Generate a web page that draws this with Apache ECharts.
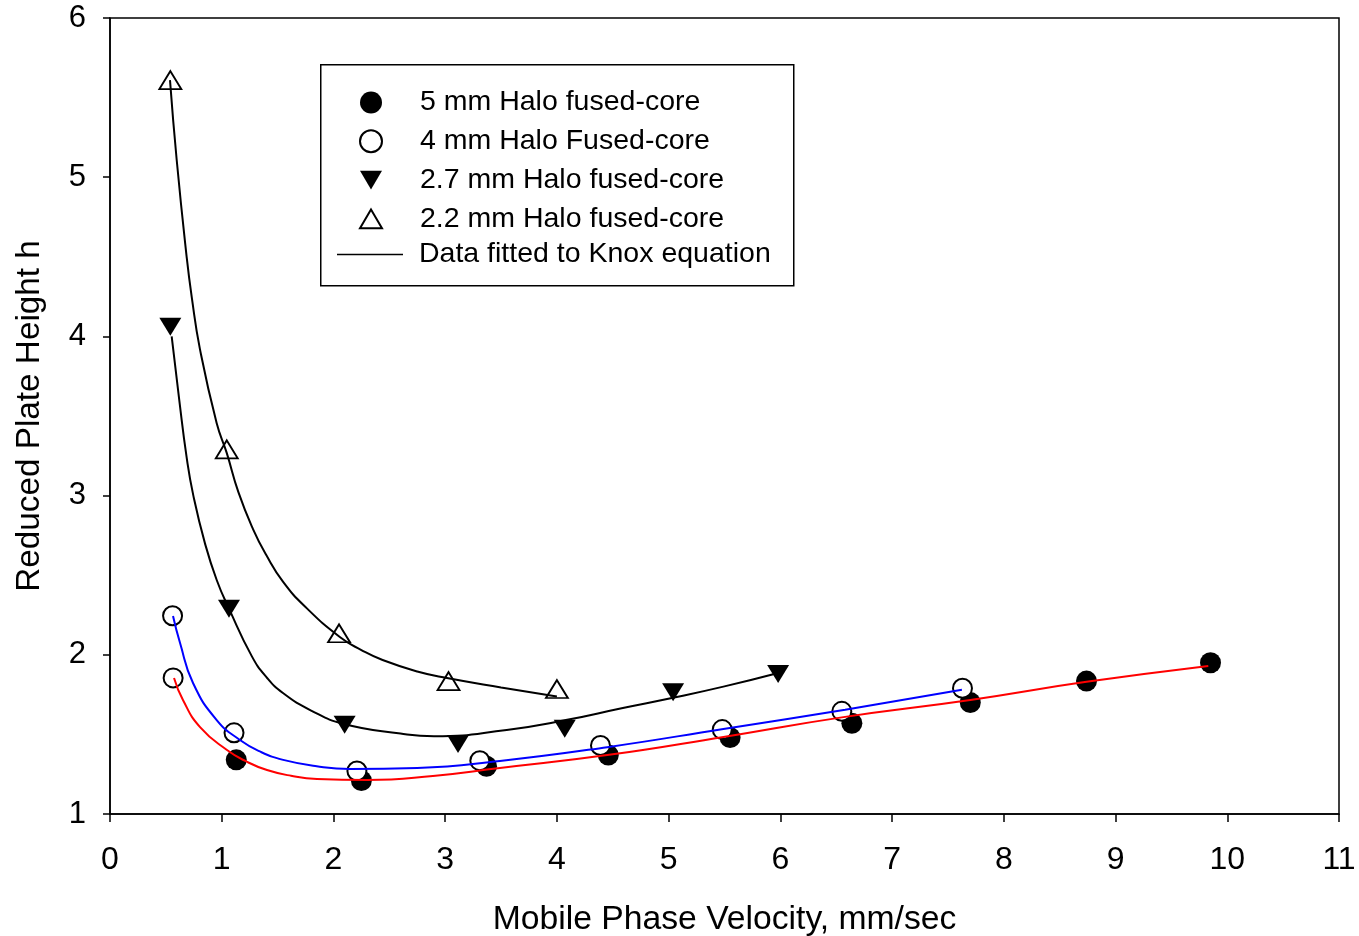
<!DOCTYPE html>
<html>
<head>
<meta charset="utf-8">
<script src="https://cdn.jsdelivr.net/npm/echarts@6/dist/echarts.min.js"></script>
<style>html,body{margin:0;padding:0;background:#fff}#c{width:1359px;height:936px}</style>
</head>
<body>
<div id="c"></div>
<script>
// ---- data ----
const v5 = [1.13, 2.25, 3.37, 4.46, 5.55, 6.64, 7.70, 8.74, 9.85];
const h5 = [1.34, 1.21, 1.30, 1.37, 1.48, 1.57, 1.70, 1.835, 1.95];

const v4 = [0.56, 0.565, 1.11, 2.21, 3.31, 4.39, 5.48, 6.55, 7.63];
const h4 = [2.245, 1.855, 1.51, 1.27, 1.335, 1.43, 1.53, 1.645, 1.79];

const v27 = [0.54, 1.065, 2.10, 3.115, 4.07, 5.04, 5.98];
const h27 = [4.06, 2.29, 1.56, 1.44, 1.535, 1.765, 1.88];

const v22 = [0.54, 1.045, 2.05, 3.03, 4.0];
const h22 = [5.61, 3.29, 2.135, 1.835, 1.785];

// fitted Knox curves
const fit5 = [[0.573,1.854],[0.653,1.716],[0.806,1.546],[1.047,1.402],[1.22,1.33],[1.405,1.276],[1.62,1.24],[1.853,1.22],[2.30,1.214],[2.89,1.239],[3.49,1.289],[4.45,1.37],[5.49,1.484],[6.55,1.607],[7.70,1.716],[8.74,1.83],[9.83,1.93]];
const fit4 = [[0.564,2.244],[0.627,2.074],[0.743,1.823],[0.955,1.59],[1.163,1.465],[1.35,1.39],[1.55,1.34],[1.85,1.30],[2.15,1.283],[2.75,1.289],[3.49,1.333],[4.45,1.42],[5.49,1.534],[6.58,1.655],[7.625,1.78]];
const fit27 = [[0.552,4.0],[0.62,3.60],[0.686,3.24],[0.746,3.0],[0.85,2.70],[0.955,2.47],[1.065,2.29],[1.27,1.99],[1.40,1.86],[1.548,1.76],[1.80,1.65],[2.094,1.565],[2.6,1.505],[2.9,1.488],[3.55,1.528],[4.08,1.59],[4.59,1.666],[5.04,1.73],[5.49,1.80],[5.98,1.886]];
const fit22 = [[0.537,5.61],[0.597,5.108],[0.686,4.50],[0.731,4.25],[0.805,3.92],[0.955,3.454],[1.044,3.27],[1.15,3.02],[1.28,2.79],[1.40,2.625],[1.548,2.46],[1.75,2.30],[2.06,2.11],[2.25,2.03],[2.44,1.967],[2.75,1.895],[3.016,1.854],[3.5,1.795],[4.0,1.738]];

const names = ['5 mm Halo fused-core', '4 mm Halo Fused-core', '2.7 mm Halo fused-core', '2.2 mm Halo fused-core'];
const fitName = 'Data fitted to Knox equation';
const xMin = 0, xMax = 11, xStep = 1;
const yMin = 1, yMax = 6, yStep = 1;

const pair = (xs, ys) => xs.map((x, i) => [x, ys[i]]);
const FONT = '"Liberation Sans", Arial, sans-serif';
const UP = 'path://M10,0 L20,17 L0,17 Z';
const DOWN = 'path://M0,0 L20,0 L10,17 Z';

const fitLine = (name, data, color) => ({
  name, type: 'line', data, smooth: 0.5, showSymbol: false, symbol: 'none', z: 5,
  lineStyle: {color, width: 2}
});

const chart = echarts.init(document.getElementById('c'), null, {renderer: 'canvas'});
chart.setOption({
  animation: false,
  backgroundColor: '#fff',
  textStyle: {fontFamily: FONT, color: '#000'},
  grid: {left: 110, right: 20, top: 18, bottom: 122, outerBoundsMode: 'none', containLabel: false,
    show: true, borderColor: '#000', borderWidth: 1.5, backgroundColor: 'transparent'},
  xAxis: {
    type: 'value', min: xMin, max: xMax, interval: xStep,
    name: 'Mobile Phase Velocity, mm/sec', nameLocation: 'middle', nameGap: 89,
    nameTextStyle: {fontSize: 33.7, color: '#000', fontFamily: FONT},
    axisLine: {lineStyle: {color: '#000', width: 1.5}},
    axisTick: {show: true, length: 8, lineStyle: {color: '#000', width: 1.5}},
    axisLabel: {fontSize: 32, color: '#000', margin: 30, fontFamily: FONT},
    splitLine: {show: false}
  },
  yAxis: {
    type: 'value', min: yMin, max: yMax, interval: yStep,
    name: 'Reduced Plate Height h', nameLocation: 'middle', nameGap: 64,
    nameTextStyle: {fontSize: 33.3, color: '#000', fontFamily: FONT},
    axisLine: {lineStyle: {color: '#000', width: 1.5}},
    axisTick: {show: true, length: 7, lineStyle: {color: '#000', width: 1.5}},
    axisLabel: {fontSize: 31, color: '#000', margin: 24, fontFamily: FONT},
    splitLine: {show: false}
  },
  graphic: [{
    type: 'rect', left: 320, top: 64, z: 0,
    shape: {width: 473, height: 221},
    style: {fill: '#fff', stroke: '#000', lineWidth: 1.5}
  }],
  legend: [{
    data: names, orient: 'vertical', left: 354, top: 83,
    itemWidth: 22, itemHeight: 22, itemGap: 9.8, z: 5,
    selectedMode: false,
    textStyle: {fontSize: 28.5, color: '#000', fontFamily: FONT, padding: [0, 0, 0, 33]}
  }, {
    data: [{name: fitName, icon: 'rect', itemStyle: {color: '#000', borderWidth: 0}}],
    orient: 'vertical', left: 332, top: 235,
    itemWidth: 66, itemHeight: 1.5, z: 5, selectedMode: false,
    textStyle: {fontSize: 28.5, color: '#000', fontFamily: FONT, padding: [0, 0, 0, 11]}
  }],
  series: [
    {name: names[0], type: 'scatter', data: pair(v5, h5), symbol: 'circle', symbolSize: 21, z: 2,
     itemStyle: {color: '#000', borderColor: '#000', borderWidth: 0, opacity: 1}},
    {name: names[1], type: 'scatter', data: pair(v4, h4), symbol: 'circle', symbolSize: 19, z: 3,
     itemStyle: {color: '#fff', borderColor: '#000', borderWidth: 2, opacity: 1}},
    {name: names[2], type: 'scatter', data: pair(v27, h27), symbol: DOWN, symbolSize: [22, 18], z: 3,
     itemStyle: {color: '#000', borderColor: '#000', borderWidth: 0, opacity: 1}},
    {name: names[3], type: 'scatter', data: pair(v22, h22), symbol: UP, symbolSize: [22, 18], z: 3,
     itemStyle: {color: '#fff', borderColor: '#000', borderWidth: 1.8, opacity: 1}},
    fitLine('fit5', fit5, '#ff0000'),
    fitLine('fit4', fit4, '#0000ff'),
    fitLine('fit27', fit27, '#000000'),
    fitLine('fit22', fit22, '#000000'),
    {name: fitName, type: 'line', data: [], symbol: 'none', itemStyle: {color: '#000'},
     lineStyle: {color: '#000', width: 1.5}}
  ]
});
</script>
</body>
</html>
